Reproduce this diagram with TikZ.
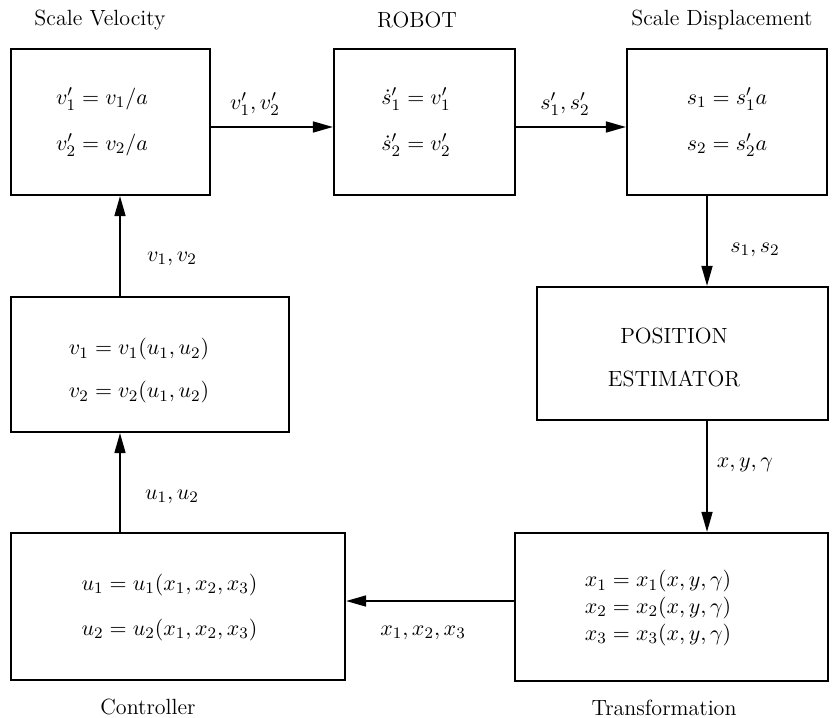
\documentclass[tikz,border=0pt]{standalone}
\usetikzlibrary{arrows.meta,calc}
\begin{document}
\begin{tikzpicture}[x=0.5pt,y=-0.5pt,
  font=\fontsize{11}{13}\selectfont,
  blk/.style={draw, line width=1.1pt, inner sep=0pt},
  conn/.style={line width=0.8pt, -{Triangle[length=10pt,width=5.5pt]}},
  txt/.style={inner sep=0pt, align=center}]
\useasboundingbox (0,0) rectangle (833,717);
% boxes
\node[blk, minimum width=99.5pt, minimum height=73pt] (sv) at (110.5,122) {};
\node[blk, minimum width=90.5pt, minimum height=73pt] (robot) at (424.5,122) {};
\node[blk, minimum width=100pt, minimum height=73pt] (sd) at (727,122) {};
\node[blk, minimum width=145.5pt, minimum height=66.5pt] (pe) at (682.5,353.5) {};
\node[blk, minimum width=139pt, minimum height=67.5pt] (vb) at (150,364.5) {};
\node[blk, minimum width=167pt, minimum height=73.5pt] (ctrl) at (178,606.5) {};
\node[blk, minimum width=156.5pt, minimum height=74pt] (tr) at (671.5,607) {};
% box contents
\node[txt] (svt) at (102,122) {$v'_1 = v_1/a$\\[10pt]$v'_2 = v_2/a$};
\node[txt] (robt) at (416,122) {$\dot{s}'_1 = v'_1$\\[10pt]$\dot{s}'_2 = v'_2$};
\node[txt] (sdt) at (727,122) {$s_1 = s'_1 a$\\[10pt]$s_2 = s'_2 a$};
\node[txt] (pet) at (674,357) {POSITION\\[8.5pt]ESTIMATOR};
\node[txt] (vbt) at (139,371) {$v_1 = v_1(u_1,u_2)$\\[8.5pt]$v_2 = v_2(u_1,u_2)$};
\node[txt] (ctt) at (169.5,607.5) {$u_1 = u_1(x_1,x_2,x_3)$\\[9.5pt]$u_2 = u_2(x_1,x_2,x_3)$};
\node[txt] (trt) at (658,608) {$x_1 = x_1(x,y,\gamma)$\\[0.3pt]$x_2 = x_2(x,y,\gamma)$\\[0.3pt]$x_3 = x_3(x,y,\gamma)$};
% titles
\node[txt] (t1) at (100,20) {Scale Velocity};
\node[txt] (t2) at (417,20) {ROBOT};
\node[txt] (t3) at (722,20) {Scale Displacement};
\node[txt] (t4) at (148,707) {Controller};
\node[txt] (t5) at (664,708) {Transformation};
% connectors
\coordinate (xr) at (707,0);
\coordinate (xl) at (120,0);
\coordinate (yt) at (0,127);
\coordinate (yb) at (0,601);
\draw[conn] (sv.east |- yt) -- (robot.west |- yt);
\draw[conn] (robot.east |- yt) -- (sd.west |- yt);
\draw[conn] (sd.south -| xr) -- (pe.north -| xr);
\draw[conn] (pe.south -| xr) -- (tr.north -| xr);
\draw[conn] (tr.west |- yb) -- (ctrl.east |- yb);
\draw[conn] (ctrl.north -| xl) -- (vb.south -| xl);
\draw[conn] (vb.north -| xl) -- (sv.south -| xl);
% connector labels
\node[txt] (l1) at (255,104) {$v'_1, v'_2$};
\node[txt] (l2) at (565,104) {$s'_1, s'_2$};
\node[txt] (l3) at (755,250) {$s_1, s_2$};
\node[txt] (l4) at (745,465) {$x, y, \gamma$};
\node[txt] (l5) at (423,633) {$x_1, x_2, x_3$};
\node[txt] (l6) at (172,497) {$u_1, u_2$};
\node[txt] (l7) at (172,259) {$v_1, v_2$};
\end{tikzpicture}
\end{document}
